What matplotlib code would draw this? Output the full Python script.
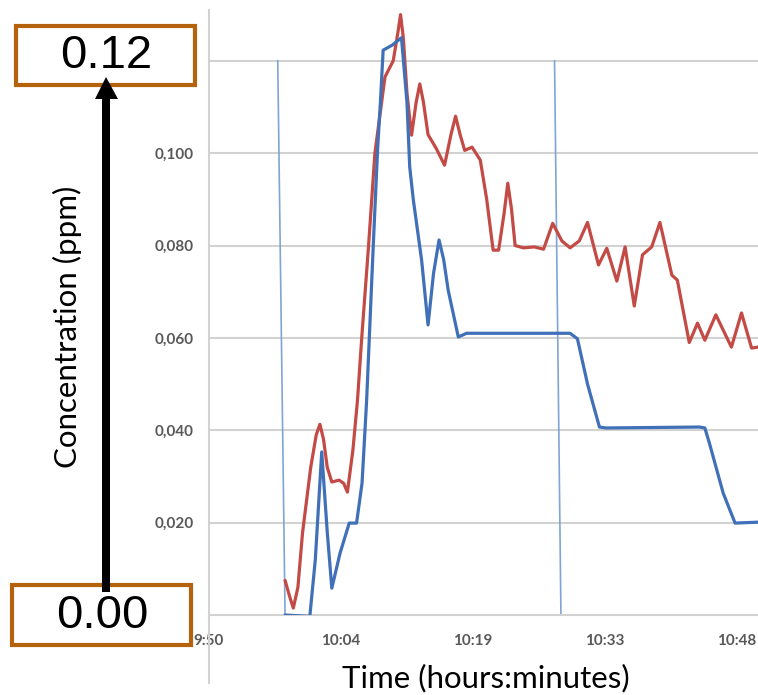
import matplotlib

matplotlib.use("Agg")
import matplotlib.pyplot as plt
from matplotlib.patches import Rectangle, Polygon
from matplotlib.lines import Line2D

# time in minutes after 9:50, concentration in ppm
red_t = [8.3, 8.8, 9.2, 9.7, 10.2, 11.1, 11.7, 12.1, 12.5, 12.9, 13.4, 14.2, 14.7,
         15.1, 15.7, 16.2, 16.7, 17.4, 18.1, 19.2, 20.1, 20.6, 20.9, 21.2, 21.6,
         22.1, 22.6, 23.0, 23.4, 23.9, 24.8, 25.7, 26.4, 26.9, 27.4, 27.9, 28.7,
         29.6, 30.3, 31.0, 31.6, 32.2, 32.6, 33.0, 33.4, 34.3, 35.5, 36.5, 37.5,
         38.5, 39.4, 40.4, 41.3, 42.5, 43.4, 44.5, 45.4, 46.4, 47.3, 48.3, 49.2,
         50.5, 51.1, 52.4, 53.3, 54.1, 55.3, 57.0, 58.1, 59.2, 59.9]
red_ppm = [0.0075, 0.004, 0.0015, 0.006, 0.0177, 0.032, 0.039, 0.0413, 0.038,
           0.032, 0.0288, 0.0292, 0.0285, 0.0266, 0.0357, 0.0465, 0.061, 0.0797,
           0.100, 0.1165, 0.120, 0.126, 0.130, 0.125, 0.113, 0.1039, 0.111, 0.115,
           0.111, 0.104, 0.101, 0.0974, 0.104, 0.108, 0.104, 0.1006, 0.1013,
           0.0985, 0.090, 0.079, 0.079, 0.087, 0.0935, 0.088, 0.080, 0.0795,
           0.0797, 0.0792, 0.0848, 0.081, 0.0795, 0.081, 0.085, 0.0758, 0.0794,
           0.0723, 0.0797, 0.0669, 0.078, 0.0797, 0.085, 0.0736, 0.0725, 0.059,
           0.0632, 0.0595, 0.065, 0.058, 0.0654, 0.0578, 0.058]

blue_t = [8.3, 11.0, 11.6, 12.3, 12.9, 13.4, 14.3, 15.3, 16.1, 16.7, 17.2, 17.9,
          18.4, 18.7, 19.0, 20.0, 21.0, 21.6, 21.9, 22.3, 23.2, 23.9, 24.5, 25.1,
          25.6, 26.1, 27.2, 28.1, 39.4, 40.2, 41.3, 42.6, 43.3, 53.5, 54.1, 54.6,
          56.1, 57.4, 59.9]
blue_ppm = [0.0, -0.0003, 0.012, 0.0353, 0.018, 0.0058, 0.0134, 0.0199, 0.0199,
            0.0286, 0.0465, 0.079, 0.101, 0.111, 0.1223, 0.1234, 0.125, 0.111,
            0.097, 0.0898, 0.0768, 0.0628, 0.074, 0.0812, 0.077, 0.0703, 0.0602,
            0.061, 0.061, 0.0598, 0.050, 0.0407, 0.0405, 0.0407, 0.0405, 0.0372,
            0.0264, 0.0199, 0.0201]

x_ticks = [0, 14.4, 28.8, 43.2, 57.6]
x_tick_labels = ["9:50", "10:04", "10:19", "10:33", "10:48"]
y_ticks = [0.02, 0.04, 0.06, 0.08, 0.10, 0.12]
y_tick_labels = ["0,020", "0,040", "0,060", "0,080", "0,100", "0,120"]

# hand-drawn vertical marker lines (top at 0.12, bottom at 0)
marker_top_t = [7.5, 37.7]
marker_bottom_t = [8.3, 38.4]

W, H = 758, 695


def px(x, y):
    return (x / W, 1 - y / H)


fig = plt.figure(figsize=(W / 100, H / 100), dpi=100)
ax = fig.add_axes([209 / W, 1 - 615 / H, 1 - 209 / W, (615 - 10) / H])
ax.set_xlim(0, 59.9)
ax.set_ylim(0, 0.131)

grid_c = "#d2d2d2"
for yv in y_ticks:
    ax.axhline(yv, color=grid_c, lw=1.5, zorder=0)
for s in ["top", "right"]:
    ax.spines[s].set_visible(False)
for s in ["left", "bottom"]:
    ax.spines[s].set_color(grid_c)
    ax.spines[s].set_linewidth(1.5)
fig.add_artist(Line2D([209 / W, 209 / W], [1 - 615 / H, 1 - 683 / H],
                      color=grid_c, lw=1.5, transform=fig.transFigure))

ax.set_xticks(x_ticks, x_tick_labels)
ax.set_yticks(y_ticks, y_tick_labels)
ax.tick_params(length=0, colors="#595959", labelsize=11)
ax.tick_params(axis="y", pad=11)
ax.tick_params(axis="x", pad=14)
for lab in ax.get_xticklabels() + ax.get_yticklabels():
    lab.set_family("Lato")
    lab.set_fontweight("bold")

for t0, t1 in zip(marker_top_t, marker_bottom_t):
    ax.plot([t0, t1], [0.12, 0], color="#7fa5d6", lw=1.2, zorder=1)

ax.plot(red_t, red_ppm, color="#c34a45", lw=2.3, solid_joinstyle="round",
        solid_capstyle="round", zorder=3)
ax.plot(blue_t, blue_ppm, color="#3f70b8", lw=2.3, solid_joinstyle="round",
        solid_capstyle="round", zorder=3)

fig.text(*px(67, 327), "Concentration (ppm)", rotation=90, ha="center",
         va="center", fontsize=22.5, family="Lato")
fig.text(*px(486, 678), "Time (hours:minutes)", ha="center", va="center",
         fontsize=22.5, family="Lato")

box_c = "#b5620d"
for (x0, y0, x1, y1), txt, (tx, ty) in [((16, 26, 195, 85), "0.12", (106, 56)),
                                         ((12, 585, 191, 645), "0.00", (102, 616))]:
    fig.add_artist(Rectangle(px(x0, y1), (x1 - x0) / W, (y1 - y0) / H,
                             transform=fig.transFigure, facecolor="white",
                             edgecolor=box_c, lw=3, zorder=5))
    fig.text(*px(tx, ty), txt, ha="center", va="center", fontsize=34,
             family="Liberation Sans", zorder=6)

arrow = [(102, 592), (110, 592), (110, 99), (118, 99), (106, 77), (95, 99), (102, 99)]
fig.add_artist(Polygon([px(x, y) for x, y in arrow], closed=True,
                       transform=fig.transFigure, facecolor="black",
                       edgecolor="none", zorder=7))

fig.savefig("out.png", dpi=100)
